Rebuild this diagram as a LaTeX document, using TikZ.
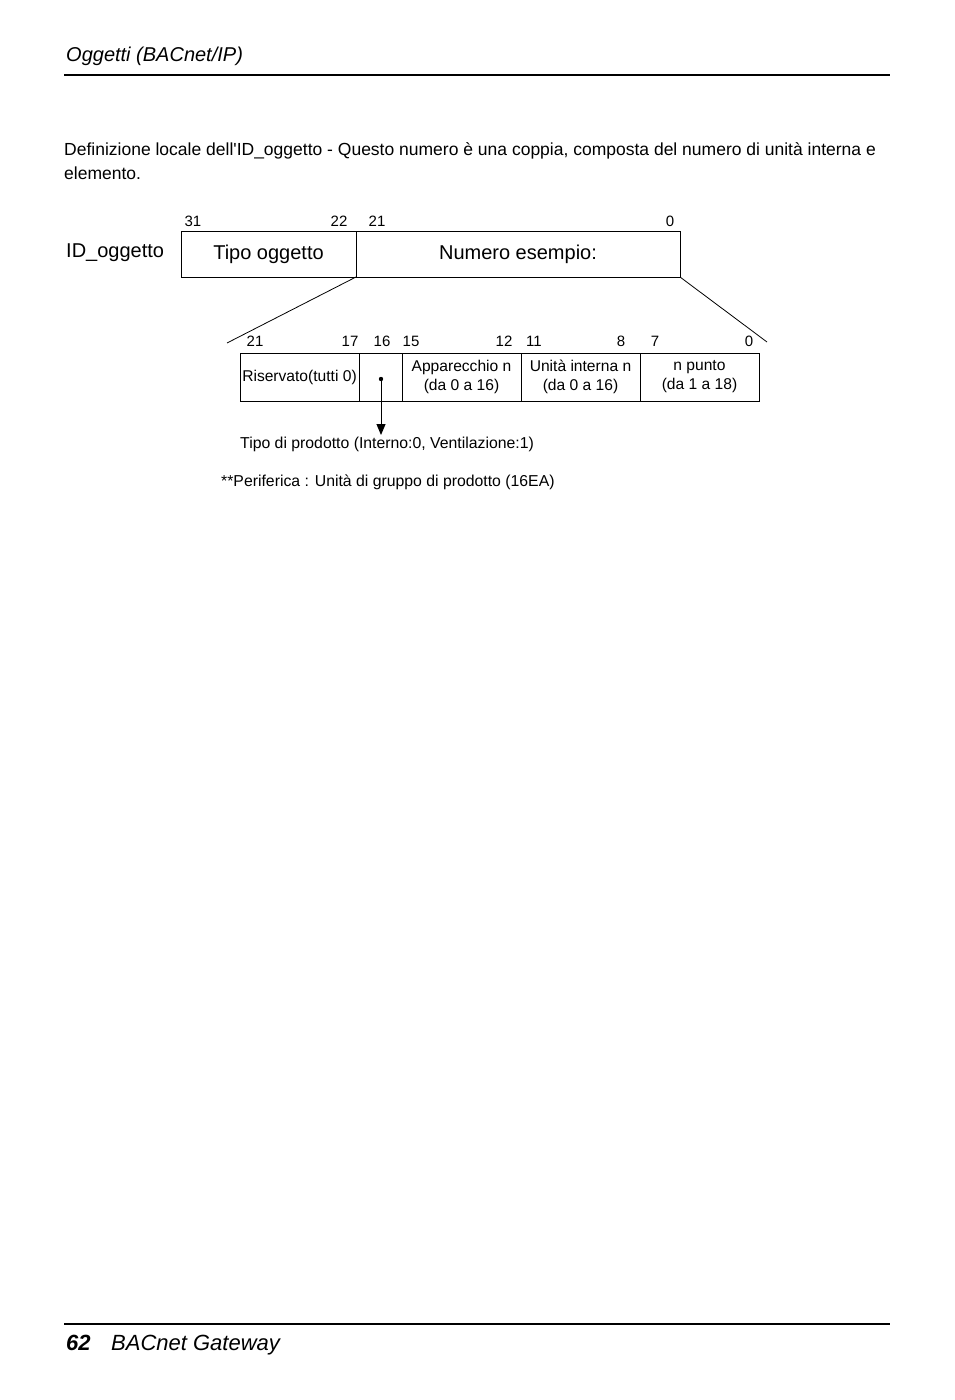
\documentclass[tikz,border=0pt]{standalone}
\usepackage{fontspec}
\setmainfont{Liberation Sans}
\usetikzlibrary{positioning, arrows.meta}
\tikzstyle{field} = [rectangle, draw=black, line width=0.8pt, outer sep=0pt, minimum height=46, inner sep=0pt, font=\fontsize{20}{22}\selectfont]
\tikzstyle{smallfield} = [rectangle, draw=black, line width=0.8pt, outer sep=0pt, minimum height=48, minimum width=119, inner sep=0pt, align=center, font=\fontsize{15.6}{19}\selectfont]
\tikzstyle{bit} = [inner sep=0pt, anchor=base, font=\fontsize{15}{16}\selectfont]
\tikzstyle{note} = [inner sep=0pt, anchor=base west, font=\fontsize{15.8}{16}\selectfont]
\tikzstyle{arrow} = [line width=1pt, -{Triangle[width=9pt,length=11pt]}]
\begin{document}
\begin{tikzpicture}[x=1pt, y=-1pt]
		\useasboundingbox (0,0) rectangle (954,1400);
		% page head and foot
		\node (head) [inner sep=0pt, anchor=base west, font=\fontsize{20}{22}\selectfont\itshape] at (66,61) {Oggetti (BACnet/IP)};
		\draw[line width=2pt] (64,75) -- (890,75);
		\node (intro) [inner sep=0pt, anchor=base west, align=left, font=\fontsize{17.5}{24}\selectfont] at (64,179) {Definizione locale dell\textquotesingle ID\_oggetto - Questo numero è una coppia, composta del numero di unità interna e\\elemento.};
		\draw[line width=2pt] (64,1324) -- (890,1324);
		\node (page) [inner sep=0pt, anchor=base west, font=\fontsize{22}{24}\selectfont\bfseries\itshape] at (66,1350) {62};
		\node (foot) [inner sep=0pt, anchor=base west, font=\fontsize{22}{24}\selectfont\itshape] at (111,1350) {BACnet Gateway};
		% ID_oggetto
		\node (idlabel) [inner sep=0pt, anchor=base west, font=\fontsize{20}{22}\selectfont] at (66,257) {ID\_oggetto};
		\node (tipo) [field, minimum width=175, anchor=north west] at (181,231) {\raisebox{-2pt}{Tipo oggetto}};
		\node (numero) [field, minimum width=324, right=0pt of tipo] {\raisebox{-2pt}{Numero esempio:}};
		\node (b31) [bit] at (193,226) {31};
		\node (b22) [bit] at (339,226) {22};
		\node (b21) [bit] at (377,226) {21};
		\node (b0) [bit] at (670,226) {0};
		% numero esempio in dettaglio
		\node (ris) [smallfield, anchor=north west] at (240,353) {Riservato(tutti 0)};
		\node (prod) [smallfield, minimum width=43, right=0pt of ris] {};
		\node (app) [smallfield, right=0pt of prod] {Apparecchio n\\(da 0 a 16)};
		\node (unita) [smallfield, right=0pt of app] {Unità interna n\\(da 0 a 16)};
		\node (punto) [smallfield, right=0pt of unita] {n punto\\(da 1 a 18)};
		\node (c21) [bit] at (255,346) {21};
		\node (c17) [bit] at (350,346) {17};
		\node (c16) [bit] at (382,346) {16};
		\node (c15) [bit] at (411,346) {15};
		\node (c12) [bit] at (504,346) {12};
		\node (c11) [bit] at (534,346) {11};
		\node (c8) [bit] at (621,346) {8};
		\node (c7) [bit] at (655,346) {7};
		\node (c0) [bit] at (749,346) {0};
		\coordinate (zoomL) at (227,343);
		\coordinate (zoomR) at (767,342);
		\draw[line width=0.8pt] (tipo.south east) -- (zoomL);
		\draw[line width=0.8pt] (numero.south east) -- (zoomR);
		% bit 16
		\coordinate (dot) at (381,379);
		\coordinate (arrowend) at (381,435);
		\fill (dot) circle (2.2);
		\draw [arrow] (dot) -- (arrowend);
		\node (prodlabel) [note] at (240,448) {Tipo di prodotto (Interno:0, Ventilazione:1)};
		\node (perif) [note] at (221,486) {**Periferica : Unità di gruppo di prodotto (16EA)};
\end{tikzpicture}
\end{document}
